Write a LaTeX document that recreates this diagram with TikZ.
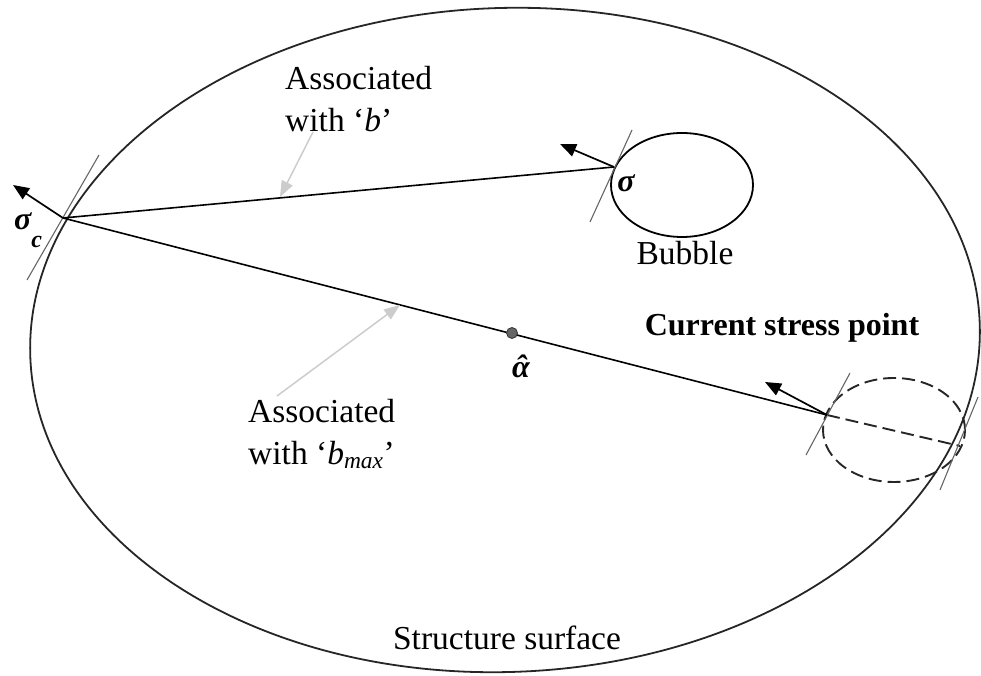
\documentclass[tikz,border=0pt]{standalone}
\usepackage{fontspec}
\setmainfont{Liberation Serif}
\usetikzlibrary{arrows.meta}
\begin{document}
\begin{tikzpicture}[x=1pt,y=1pt,
  surf/.style={line width=1.8pt, black!85},
  tang/.style={line width=1.1pt, black!60},
  normal/.style={line width=1.7pt, black, -{Triangle[length=16pt,width=13pt]}},
  conn/.style={line width=1.6pt, black},
  dashes/.style={line width=1.9pt, black!85, dash pattern=on 13pt off 6pt},
  pointer/.style={line width=1.5pt, black!20, -{Triangle[length=16pt,width=12pt]}},
  lbl/.style={font=\fontsize{33.5}{42}\selectfont, inner sep=0pt, align=left},
  sym/.style={font=\fontsize{32}{36}\selectfont\bfseries\itshape, inner sep=0pt}]
\useasboundingbox (0,0) rectangle (981,676);
% structure surface
\draw[surf, rotate around={2:(505,336)}] (505,336) ellipse [x radius=475, y radius=332];
% key points
\coordinate (sc) at (63,458);
\coordinate (sg) at (614,509);
\coordinate (cur) at (827,261);
\coordinate (far) at (960,230);
\coordinate (scN) at (13,491);
\coordinate (sgN) at (560,532);
\coordinate (curN) at (765,294);
\coordinate (scT1) at (99,521);
\coordinate (scT2) at (27,396);
\coordinate (sgT1) at (632,546);
\coordinate (sgT2) at (590,454);
\coordinate (curT1) at (850,303);
\coordinate (curT2) at (806,221);
\coordinate (farT1) at (940,186);
\coordinate (farT2) at (978,279);
% bubble
\draw[line width=1.8pt] (682,491) ellipse [x radius=71, y radius=52];
% dashed bubble
\draw[dashes] (894,246) ellipse [x radius=71, y radius=52];
\draw[dashes] (cur) -- (far);
% tangent lines
\draw[tang] (scT1) -- (scT2);
\draw[tang] (sgT1) -- (sgT2);
\draw[tang] (curT1) -- (curT2);
\draw[tang] (farT1) -- (farT2);
% connecting lines
\draw[conn] (sc) -- (sg);
\draw[conn] (sc) -- (cur);
% normals
\draw[normal] (sc) -- (scN);
\draw[normal] (sg) -- (sgN);
\draw[normal] (cur) -- (curN);
% centre point
\node[circle, fill=black!60, draw=black!80, line width=0.8pt, minimum size=11pt, inner sep=0pt] (ah) at (512,343) {};
% labels
\node[sym, anchor=base west] (lsc) at (14,446) {σ\raisebox{-0.55em}{\fontsize{24}{24}\selectfont c}};
\node[sym] (lsg) at (626,493) {σ};
\node[sym] (lah) at (521,310) {\accent"02C6 α};
\node[lbl] (lbub) at (685,423) {Bubble};
\node[lbl, font=\fontsize{32}{42}\selectfont\bfseries] (lcur) at (782,348) {Current stress point};
\node[lbl] (lsurf) at (507,38) {Structure surface};
\node[lbl, anchor=west] (lb) at (285,577) {Associated\\with `\textit{b}'};
\node[lbl, anchor=west] (lbm) at (248,242) {Associated\\with `\textit{b}\textsubscript{\textit{max}}'};
% pointers
\coordinate (pb1) at (313,544);
\coordinate (pb2) at (280,479);
\coordinate (pm1) at (277,280);
\coordinate (pm2) at (400,371);
\draw[pointer] (pb1) -- (pb2);
\draw[pointer] (pm1) -- (pm2);
\end{tikzpicture}
\end{document}
